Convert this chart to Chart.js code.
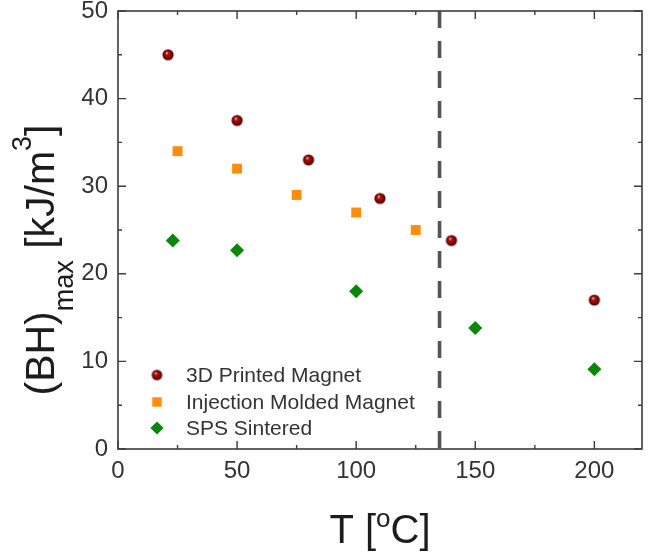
<!DOCTYPE html>
<html><head><meta charset="utf-8">
<script src="https://cdn.jsdelivr.net/npm/chart.js@4.4.0/dist/chart.umd.min.js"></script>
<style>html,body{margin:0;padding:0;background:#fff;}#wrap{width:649px;height:554px;position:relative;}</style>
</head><body><div id="wrap"><canvas id="c" width="649" height="554"></canvas></div>
<script>
// ---- data ----
const seriesLabels = ['3D Printed Magnet', 'Injection Molded Magnet', 'SPS Sintered'];
const printedT  = [21, 50, 80, 110, 140, 200];
const printedBH = [45, 37.5, 33, 28.6, 23.8, 17];
const moldedT   = [25, 50, 75, 100, 125];
const moldedBH  = [34, 32, 29, 27, 25];
const spsT      = [23, 50, 100, 150, 200];
const spsBH     = [23.8, 22.7, 18, 13.8, 9.1];
const limitT    = [135];
const xTicks = [0, 50, 100, 150, 200];
const yTicks = [0, 10, 20, 30, 40, 50];
const xMinor = [25, 75, 125, 175];
const yMinor = [5, 15, 25, 35, 45];
const xRange = [0, 220];
const yRange = [0, 50];

const pts = (xs, ys) => xs.map((x, i) => ({x, y: ys[i]}));

function sphere(r) {
  const c = document.createElement('canvas');
  const s = Math.ceil(r * 2 + 2);
  c.width = s; c.height = s;
  const g = c.getContext('2d');
  const cx = s / 2, cy = s / 2;
  const grad = g.createRadialGradient(cx - r * 0.25, cy - r * 0.35, r * 0.05, cx, cy, r);
  grad.addColorStop(0, '#f6dada');
  grad.addColorStop(0.22, '#b21818');
  grad.addColorStop(0.7, '#7a0404');
  grad.addColorStop(1, '#4e0000');
  g.fillStyle = grad;
  g.beginPath(); g.arc(cx, cy, r, 0, Math.PI * 2); g.fill();
  return c;
}
const sphereImg = sphere(5.6);
const sphereLegend = sphere(5.3);

const FONT = "'Liberation Sans', Arial, sans-serif";
const TXT = '#333';

const decor = {
  id: 'decor',
  afterDraw(chart) {
    const ctx = chart.ctx, a = chart.chartArea;
    const xs = chart.scales.x, ys = chart.scales.y;
    ctx.save();
    // frame
    ctx.strokeStyle = '#3c3c3c';
    ctx.lineWidth = 1.6;
    ctx.strokeRect(a.left, a.top, a.right - a.left, a.bottom - a.top);
    // inner ticks
    ctx.lineWidth = 1.4;
    ctx.beginPath();
    const tx = (v, len) => { const p = xs.getPixelForValue(v);
      ctx.moveTo(p, a.bottom); ctx.lineTo(p, a.bottom - len);
      ctx.moveTo(p, a.top); ctx.lineTo(p, a.top + len); };
    const ty = (v, len) => { const p = ys.getPixelForValue(v);
      ctx.moveTo(a.left, p); ctx.lineTo(a.left + len, p);
      ctx.moveTo(a.right, p); ctx.lineTo(a.right - len, p); };
    xTicks.forEach(v => tx(v, 8)); xMinor.forEach(v => tx(v, 4));
    yTicks.forEach(v => ty(v, 8)); yMinor.forEach(v => ty(v, 4));
    ctx.stroke();

    // legend
    const lx = a.left + 39, lt = a.left + 68;
    const rows = [a.bottom - 74, a.bottom - 47, a.bottom - 21];
    ctx.font = '21px ' + FONT;
    ctx.textBaseline = 'middle';
    ctx.textAlign = 'left';
    const ds = chart.data.datasets;
    for (let i = 0; i < 3; i++) {
      const d = ds[i];
      ctx.fillStyle = d.backgroundColor;
      Chart.helpers.drawPoint(ctx, {
        pointStyle: i === 0 ? sphereLegend : d.pointStyle,
        radius: 6.6, rotation: 0, borderWidth: 0
      }, lx, rows[i]);
      ctx.fillStyle = TXT;
      ctx.fillText(d.label, lt, rows[i] + 1);
    }

    // x title: T [oC] with superscript o
    ctx.fillStyle = '#1c1c1c';
    ctx.textBaseline = 'alphabetic';
    const big = '40px ' + FONT, small = '26px ' + FONT;
    const parts = [['T [', big, 0], ['o', small, -16], ['C]', big, 0]];
    let w = 0;
    parts.forEach(p => { ctx.font = p[1]; w += ctx.measureText(p[0]).width; });
    let x = (a.left + a.right) / 2 - w / 2;
    const yb = 543;
    parts.forEach(p => { ctx.font = p[1]; ctx.fillText(p[0], x, yb + p[2]); x += ctx.measureText(p[0]).width; });

    // y title: (BH)max [kJ/m3]
    const yb2 = 54;
    const yparts = [['(BH)', '41px ' + FONT, 0], ['max', '27px ' + FONT, 19], [' [kJ/m', '41px ' + FONT, 0], ['3', '27px ' + FONT, -23], [']', '41px ' + FONT, 0]];
    let tw = 0;
    yparts.forEach(p => { ctx.font = p[1]; tw += ctx.measureText(p[0]).width; });
    ctx.translate(yb2, 260 + tw / 2);
    ctx.rotate(-Math.PI / 2);
    let px = 0;
    yparts.forEach(p => { ctx.font = p[1]; ctx.fillText(p[0], px, p[2]); px += ctx.measureText(p[0]).width; });
    ctx.restore();
  }
};

new Chart(document.getElementById('c'), {
  type: 'scatter',
  data: {
    datasets: [
      { label: seriesLabels[0], data: pts(printedT, printedBH), pointStyle: sphereImg,
        backgroundColor: '#8b0a0a', borderColor: '#8b0a0a', pointRadius: 5.6, pointHoverRadius: 5.6 },
      { label: seriesLabels[1], data: pts(moldedT, moldedBH), pointStyle: 'rect',
        backgroundColor: '#ff8c0a', borderColor: '#ff8c0a', borderWidth: 0, pointRadius: 7, pointHoverRadius: 7 },
      { label: seriesLabels[2], data: pts(spsT, spsBH), pointStyle: 'rectRot',
        backgroundColor: '#0a870a', borderColor: '#0a870a', borderWidth: 0, pointRadius: 7, pointHoverRadius: 7 },
      { label: '', type: 'line', data: [{x: limitT[0], y: yRange[1]}, {x: limitT[0], y: yRange[0]}],
        borderColor: '#555555', borderWidth: 3.6, borderDash: [17, 13], pointRadius: 0, fill: false }
    ]
  },
  options: {
    responsive: false,
    animation: false,
    events: [],
    layout: { padding: { top: 11, right: 7, left: 0, bottom: 0 } },
    plugins: { legend: { display: false }, tooltip: { enabled: false } },
    scales: {
      x: {
        type: 'linear', min: xRange[0], max: xRange[1],
        afterBuildTicks: s => { s.ticks = xTicks.map(v => ({value: v})); },
        afterFit: s => { s.height = 105; s.paddingLeft = 0; s.paddingRight = 0; },
        grid: { display: false, drawTicks: false },
        border: { display: false },
        ticks: { padding: 8, color: TXT, font: { family: FONT, size: 24 }, maxRotation: 0, autoSkip: false }
      },
      y: {
        type: 'linear', min: yRange[0], max: yRange[1],
        afterBuildTicks: s => { s.ticks = yTicks.map(v => ({value: v})); },
        afterFit: s => { s.width = 118; s.paddingTop = 0; s.paddingBottom = 0; },
        grid: { display: false, drawTicks: false },
        border: { display: false },
        ticks: { padding: 10, color: TXT, font: { family: FONT, size: 24 }, autoSkip: false }
      }
    }
  },
  plugins: [decor]
});
</script></body></html>
